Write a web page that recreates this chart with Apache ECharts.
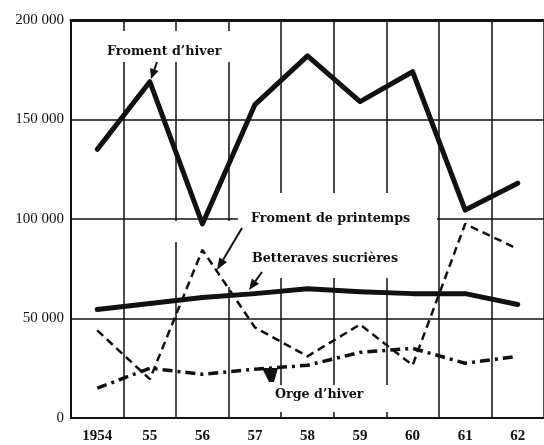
<!DOCTYPE html>
<html>
<head>
<meta charset="utf-8">
<script src="https://cdn.jsdelivr.net/npm/echarts@6/dist/echarts.min.js"></script>
<style>html,body{margin:0;padding:0;background:#fff}#c{width:544px;height:445px}</style>
</head>
<body>
<div id="c"></div>
<script>
var years = ['1954', '55', '56', '57', '58', '59', '60', '61', '62'];
var yTicks = [0, 50000, 100000, 150000, 200000];
var fromentHiver = [135000, 169000, 97500, 157500, 182000, 159000, 174000, 104500, 118000];
var betteraves = [54500, 57500, 60500, 62500, 65000, 63500, 62500, 62500, 57000];
var fromentPrintemps = [44000, 19500, 84500, 45500, 31000, 47000, 26500, 97500, 85000];
var orgeHiver = [15000, 25000, 22000, 24500, 26500, 33000, 35000, 27500, 31000];
var seriesNames = ['Froment d’hiver', 'Betteraves sucrières', 'Froment de printemps', 'Orge d’hiver'];

var ink = '#111';
var serif = '"Liberation Serif", "DejaVu Serif", serif';
var annFont = 'bold 12.7px "DejaVu Serif", serif';

function fmt(v) {
  if (v === 0) return '0';
  var s = String(v);
  return s.slice(0, s.length - 3) + ' ' + s.slice(s.length - 3);
}

function arrow(x1, y1, x2, y2, headLen, headW) {
  var dx = x2 - x1, dy = y2 - y1, L = Math.sqrt(dx * dx + dy * dy);
  var ux = dx / L, uy = dy / L;
  var bx = x2 - ux * headLen, by = y2 - uy * headLen;
  var px = -uy * headW / 2, py = ux * headW / 2;
  return [
    { type: 'line', shape: { x1: x1, y1: y1, x2: bx, y2: by }, style: { stroke: ink, lineWidth: 2 }, z: 100 },
    { type: 'polygon', shape: { points: [[x2, y2], [bx + px, by + py], [bx - px, by - py]] }, style: { fill: ink }, z: 100 }
  ];
}

function label(text, x, yc) {
  return { type: 'text', left: x, top: yc - 7, style: { text: text, fill: ink, font: annFont }, z: 100 };
}

function blank(x, y, w, h) {
  return { type: 'rect', shape: { x: x, y: y, width: w, height: h }, style: { fill: '#fff' }, z: 1, silent: true };
}

var graphics = [
  blank(100, 31, 135, 31),
  blank(238, 193, 199, 85),
  blank(172, 221, 66, 21),
  blank(224, 221, 14, 66),
  blank(262, 385, 136, 27),
  label(seriesNames[0], 107, 52),
  label(seriesNames[2], 251, 219),
  label(seriesNames[1], 252, 259),
  label(seriesNames[3], 275, 395),
  { type: 'polygon', shape: { points: [[262, 368], [278, 368], [274, 382], [269, 382]] }, style: { fill: ink }, z: 100 }
].concat(arrow(157, 62, 151, 79, 10, 9))
 .concat(arrow(242, 228, 217, 270, 12, 9))
 .concat(arrow(262, 272, 249, 290, 11, 9));

var chart = echarts.init(document.getElementById('c'), null, { renderer: 'canvas' });
chart.setOption({
  animation: false,
  backgroundColor: '#fff',
  grid: { left: 71, right: 0, top: 20, bottom: 27 },
  xAxis: [{
    type: 'category',
    data: years,
    boundaryGap: true,
    axisLine: { show: true, lineStyle: { color: ink, width: 2 } },
    axisTick: { show: false },
    axisLabel: { color: ink, fontFamily: serif, fontSize: 15, fontWeight: 'bold', margin: 11 },
    splitLine: { show: true, lineStyle: { color: ink, width: 1.5 } }
  }, {
    type: 'category',
    data: years,
    position: 'top',
    boundaryGap: true,
    axisLine: { show: true, lineStyle: { color: ink, width: 3 } },
    axisTick: { show: false },
    axisLabel: { show: false },
    splitLine: { show: false }
  }],
  yAxis: {
    type: 'value',
    min: yTicks[0],
    max: yTicks[yTicks.length - 1],
    interval: yTicks[1] - yTicks[0],
    axisLine: { show: true, lineStyle: { color: ink, width: 2 } },
    axisTick: { show: false },
    axisLabel: { color: ink, fontFamily: serif, fontSize: 15, margin: 7, formatter: fmt },
    splitLine: { show: true, lineStyle: { color: ink, width: 1.5 } }
  },
  series: [
    { name: seriesNames[0], type: 'line', data: fromentHiver, symbol: 'none', z: 3,
      lineStyle: { color: ink, width: 5, join: 'round', cap: 'round' } },
    { name: seriesNames[1], type: 'line', data: betteraves, symbol: 'none', z: 3,
      lineStyle: { color: ink, width: 5, join: 'round', cap: 'round' } },
    { name: seriesNames[2], type: 'line', data: fromentPrintemps, symbol: 'none', z: 3,
      lineStyle: { color: ink, width: 2.5, type: [8, 5] } },
    { name: seriesNames[3], type: 'line', data: orgeHiver, symbol: 'none', z: 3,
      lineStyle: { color: ink, width: 3.5, type: [10, 5, 3, 5] } }
  ],
  graphic: graphics
});
</script>
</body>
</html>
